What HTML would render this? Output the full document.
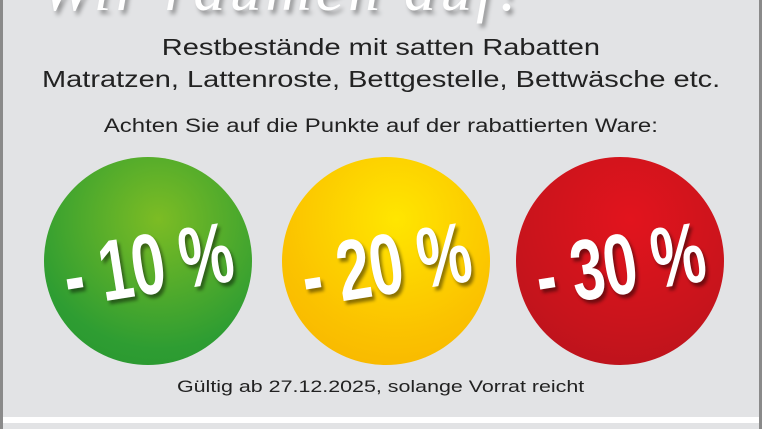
<!DOCTYPE html>
<html><head><meta charset="utf-8"><style>
html,body{margin:0;padding:0}
body{width:762px;height:429px;overflow:hidden;background:#e2e3e5;position:relative;font-family:"Liberation Sans","DejaVu Sans",sans-serif}
.bl{position:absolute;left:0;top:0;width:3px;height:429px;background:#8a8a8a}
.br{position:absolute;right:0;top:0;width:3px;height:429px;background:#8a8a8a}
.ws{position:absolute;left:3px;right:3px;top:417px;height:6px;background:#fff}
.t{position:absolute;left:0;width:762px;text-align:center;color:#222}
.t span{display:inline-block;transform:scaleX(1.26);transform-origin:center}
.script{position:absolute;top:-48px;left:40px;font:italic 64px "Liberation Serif",serif;color:#fff;text-shadow:3px 4px 4px rgba(0,0,0,.35);letter-spacing:4px}
.c{position:absolute;width:208px;height:208px;border-radius:50%;top:157px}
.c span{position:absolute;left:0;top:4px;width:208px;height:208px;display:flex;align-items:center;justify-content:center;color:#fff;font-weight:bold;font-size:86px;transform:rotate(-9deg) scaleX(0.7);text-shadow:3px 4px 4px rgba(0,0,0,.45);letter-spacing:-1px;white-space:nowrap}
</style></head><body>
<div class="bl"></div><div class="br"></div>
<div class="script">Wir räumen auf!</div>
<div class="t" style="top:34px;font-size:23px"><span>Restbestände mit satten Rabatten</span></div>
<div class="t" style="top:66px;font-size:23px"><span>Matratzen, Lattenroste, Bettgestelle, Bettwäsche etc.</span></div>
<div class="t" style="top:116px;font-size:19px"><span>Achten Sie auf die Punkte auf der rabattierten Ware:</span></div>
<div class="c" style="left:44px;background:radial-gradient(circle at 55% 30%,#7cbc24,#2e9d32 70%,#27942e)"><span>- 10 %</span></div>
<div class="c" style="left:282px;background:radial-gradient(circle at 55% 30%,#ffe600,#fbc300 60%,#f6b100)"><span>- 20 %</span></div>
<div class="c" style="left:516px;background:radial-gradient(circle at 55% 30%,#e2141d,#c8141c 60%,#b4121b)"><span>- 30 %</span></div>
<div class="t" style="top:377px;font-size:17px"><span>Gültig ab 27.12.2025, solange Vorrat reicht</span></div>
<div class="ws"></div>
</body></html>
